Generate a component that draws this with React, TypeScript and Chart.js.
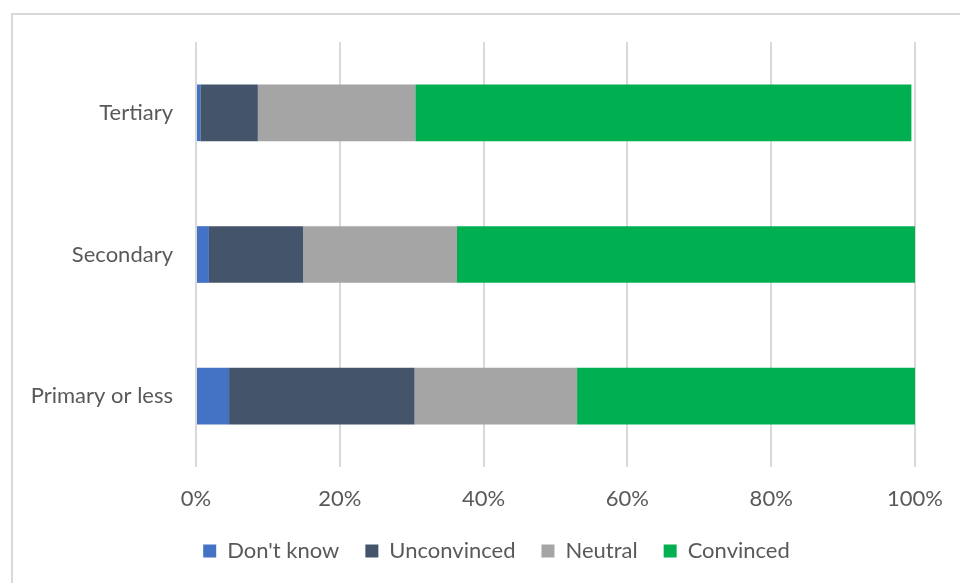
import React, { useEffect, useRef } from "react";
import { Chart, registerables } from "chart.js";

Chart.register(...registerables);

// Education levels, listed top to bottom
const levels = ["Tertiary", "Secondary", "Primary or less"];

// Share of respondents (%) per attitude
const dontKnow = [0.6, 1.8, 4.6];
const unconvinced = [8.0, 13.1, 25.8];
const neutral = [21.9, 21.4, 22.6];
const convinced = [69.0, 63.7, 47.0];

const seriesNames = ["Don't know", "Unconvinced", "Neutral", "Convinced"];
const seriesColors = ["#4472C4", "#44546A", "#A5A5A5", "#00B050"];

const xTicks = [0, 20, 40, 60, 80, 100];

const FONT = "Lato, 'Open Sans', sans-serif";
const FONT_SIZE = 22;
const TEXT_COLOR = "#595959";
const GRID_COLOR = "#d9d9d9";

const CANVAS_LEFT = 11;
const CANVAS_W = 971;
const CANVAS_H = 583;

export default function App() {
  const canvasRef = useRef<HTMLCanvasElement | null>(null);

  useEffect(() => {
    const canvas = canvasRef.current;
    if (!canvas) return;
    const values = [dontKnow, unconvinced, neutral, convinced];
    const chart = new Chart(canvas, {
      type: "bar",
      data: {
        labels: levels,
        datasets: values.map((data, i) => ({
          label: seriesNames[i],
          data,
          xAxisID: "x",
          yAxisID: "y",
          backgroundColor: seriesColors[i],
          borderWidth: 0,
          categoryPercentage: 1,
          barPercentage: 0.4,
        })),
      },
      options: {
        indexAxis: "y",
        responsive: false,
        animation: false,
        devicePixelRatio: 1,
        layout: { padding: { top: 42, left: 0, right: 0, bottom: 11 } },
        plugins: {
          tooltip: { enabled: false },
          legend: {
            position: "bottom",
            labels: {
              boxWidth: 13,
              boxHeight: 13,
              padding: 26,
              color: TEXT_COLOR,
              font: { family: FONT, size: FONT_SIZE },
            },
          },
        },
        scales: {
          x: {
            stacked: true,
            min: 0,
            max: 100,
            afterBuildTicks: (scale: any) => {
              scale.ticks = xTicks.map((v) => ({ value: v }));
            },
            afterFit: (scale: any) => {
              scale.height = 47;
            },
            grid: {
              color: GRID_COLOR,
              lineWidth: 2,
              drawTicks: false,
            },
            border: { display: false },
            ticks: {
              padding: 18.8,
              color: TEXT_COLOR,
              font: { family: FONT, size: FONT_SIZE },
              callback: (v: any) => `${v}%`,
            },
          },
          y: {
            stacked: true,
            afterFit: (scale: any) => {
              scale.width = 185;
            },
            grid: { display: false, drawTicks: false },
            border: { display: false },
            ticks: {
              padding: 23,
              color: TEXT_COLOR,
              font: { family: FONT, size: FONT_SIZE },
            },
          },
          // empty right-hand axis that reserves the margin beside 100%
          yRight: {
            type: "category",
            position: "right",
            afterFit: (scale: any) => {
              scale.width = 67;
            },
            grid: { display: false, drawTicks: false },
            border: { display: false },
            ticks: { display: false },
          },
        },
      },
    });
    return () => chart.destroy();
  }, []);

  return (
    <div
      style={{
        position: "fixed",
        left: 0,
        top: 0,
        width: 960,
        height: 583,
        overflow: "hidden",
        background: "#ffffff",
      }}
    >
      <div
        style={{
          position: "absolute",
          left: 11,
          top: 13,
          width: CANVAS_W,
          height: 600,
          boxSizing: "border-box",
          border: `2px solid ${GRID_COLOR}`,
        }}
      />
      <canvas
        ref={canvasRef}
        width={CANVAS_W}
        height={CANVAS_H}
        style={{
          position: "absolute",
          left: CANVAS_LEFT,
          top: 0,
          width: CANVAS_W,
          height: CANVAS_H,
        }}
      />
    </div>
  );
}
